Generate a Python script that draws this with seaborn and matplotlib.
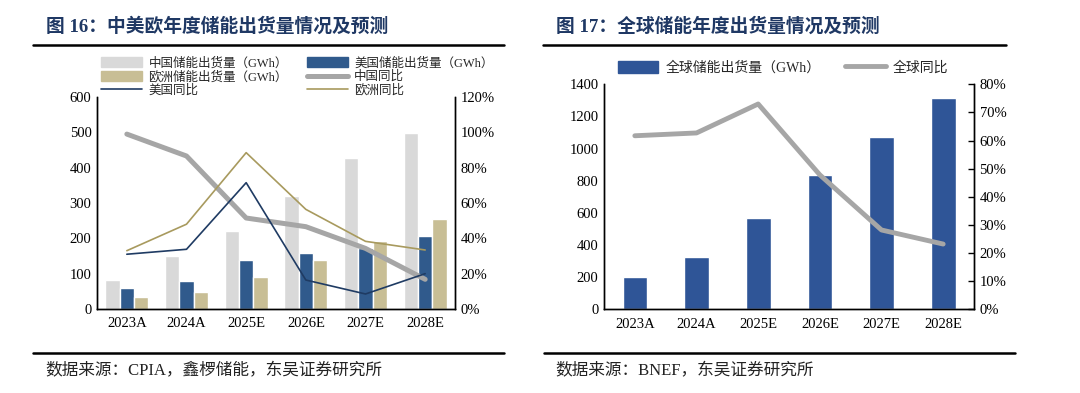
import numpy as np
import pandas as pd
import seaborn as sns
import matplotlib.pyplot as plt
from matplotlib.patches import Patch
from matplotlib.lines import Line2D

# ---- data ----
years = ["2023A", "2024A", "2025E", "2026E", "2027E", "2028E"]

cn_ship = [82, 150, 221, 320, 428, 499]
us_ship = [60, 80, 138, 159, 172, 206]
eu_ship = [33, 48, 90, 139, 192, 254]
cn_yoy = [0.99, 0.866, 0.515, 0.466, 0.343, 0.168]
us_yoy = [0.31, 0.338, 0.715, 0.164, 0.085, 0.20]
eu_yoy = [0.33, 0.48, 0.885, 0.564, 0.383, 0.334]

gl_ship = [201, 328, 570, 834, 1072, 1312]
gl_yoy = [0.617, 0.627, 0.73, 0.478, 0.282, 0.232]

names_ship = ["中国储能出货量（GWh）", "美国储能出货量（GWh）", "欧洲储能出货量（GWh）"]
names_yoy = ["中国同比", "美国同比", "欧洲同比"]

c_cn, c_us, c_eu = "#D9D9D9", "#305A8C", "#C8BE95"
c_cnl, c_usl, c_eul = "#A6A6A6", "#1F3B63", "#A89A5E"
c_gl = "#2F5597"
title_c = "#1F3864"

sns.set_style("white")
plt.rcParams['font.family'] = ['Liberation Serif', 'Noto Sans CJK SC', 'DejaVu Sans']
plt.rcParams['axes.linewidth'] = 1.0

fig = plt.figure(figsize=(10.8, 3.93), dpi=100)

# ---------------- left chart ----------------
ax1 = fig.add_axes([97/1080, 1-309/393, 358/1080, 212/393])
df = pd.DataFrame({
    "year": years * 3,
    "val": cn_ship + us_ship + eu_ship,
    "kind": [names_ship[0]]*6 + [names_ship[1]]*6 + [names_ship[2]]*6,
})
sns.barplot(data=df, x="year", y="val", hue="kind", ax=ax1, width=0.72,
            palette=[c_cn, c_us, c_eu], saturation=1, legend=False)
ax1.set_ylim(0, 600)
ax1.set_yticks(range(0, 601, 100))
ax1.set_xlim(-0.5, 5.5)
ax1.set_xlabel("")
ax1.set_ylabel("")

ax1b = ax1.twinx()
xs = np.arange(len(years))
sns.lineplot(x=xs, y=cn_yoy, ax=ax1b, color=c_cnl, lw=3.6)
sns.lineplot(x=xs, y=us_yoy, ax=ax1b, color=c_usl, lw=1.2)
sns.lineplot(x=xs, y=eu_yoy, ax=ax1b, color=c_eul, lw=1.2)
ax1b.set_ylim(0, 1.2)
ax1b.set_yticks(np.arange(0, 1.21, 0.2))
ax1b.set_yticklabels([f"{int(round(v*100))}%" for v in np.arange(0, 1.21, 0.2)])

# ---------------- right chart ----------------
ax2 = fig.add_axes([604/1080, 1-309.3/393, 370/1080, 225/393])
sns.barplot(x=years, y=gl_ship, ax=ax2, color=c_gl, saturation=1, width=0.4)
ax2.set_ylim(0, 1400)
ax2.set_yticks(range(0, 1401, 200))
ax2.set_xlim(-0.5, 5.5)

ax2b = ax2.twinx()
sns.lineplot(x=xs, y=gl_yoy, ax=ax2b, color=c_cnl, lw=3.5)
ax2b.set_ylim(0, 0.8)
ax2b.set_yticks(np.arange(0, 0.81, 0.1))
ax2b.set_yticklabels([f"{int(round(v*100))}%" for v in np.arange(0, 0.81, 0.1)])

for a in (ax1, ax1b, ax2, ax2b):
    for s in ("left", "right", "bottom"):
        a.spines[s].set_visible(True)
        a.spines[s].set_color("black")
    a.spines["top"].set_visible(False)
    a.tick_params(axis="both", labelsize=10.5, colors="black", length=0, pad=4)
    a.grid(False)

for a in (ax1, ax2):
    a.set_xticks(np.arange(-0.5, 6.0, 1.0), minor=True)
    a.tick_params(axis="x", which="minor", direction="in", length=4, width=1)
    a.tick_params(axis="x", which="major", pad=6)
ax2b.tick_params(axis="y", direction="in", length=4, width=1)
ax1.set_yticks([600], minor=True)
ax1.tick_params(axis="y", which="minor", direction="in", length=4, width=1)
ax1b.set_yticks([1.2], minor=True)
ax1b.tick_params(axis="y", which="minor", direction="in", length=4, width=1)
ax2.set_yticks([1400], minor=True)
ax2.tick_params(axis="y", which="minor", direction="in", length=4, width=1)

# ---------------- legends ----------------
h_cn = Patch(color=c_cn)
h_us = Patch(color=c_us)
h_eu = Patch(color=c_eu)
l_cn = Line2D([], [], color=c_cnl, lw=3.6)
l_us = Line2D([], [], color=c_usl, lw=1.2)
l_eu = Line2D([], [], color=c_eul, lw=1.2)
leg1 = fig.legend([h_cn, h_eu, l_us, h_us, l_cn, l_eu],
                  [names_ship[0], names_ship[2], names_yoy[1],
                   names_ship[1], names_yoy[0], names_yoy[2]],
                  ncol=2, loc="upper left", bbox_to_anchor=(101/1080, 1-57/393),
                  frameon=False, fontsize=9, handlelength=3.3, handleheight=0.9,
                  labelspacing=0.1, columnspacing=1.5, handletextpad=0.5,
                  borderpad=0, borderaxespad=0)

leg2 = fig.legend([Patch(color=c_gl), Line2D([], [], color=c_cnl, lw=3.5)],
                  ["全球储能出货量（GWh）", "全球同比"],
                  ncol=2, loc="upper left", bbox_to_anchor=(618/1080, 1-61/393),
                  frameon=False, fontsize=10, handlelength=2.9, handleheight=0.9,
                  columnspacing=1.8, handletextpad=0.5, borderpad=0, borderaxespad=0)

# ---------------- titles, rules, sources ----------------
fig.text(46/1080, 1-26.5/393, "图 16：中美欧年度储能出货量情况及预测", fontsize=13.5,
         fontweight="bold", color=title_c, va="center", ha="left")
fig.text(556/1080, 1-26.5/393, "图 17：全球储能年度出货量情况及预测", fontsize=13.5,
         fontweight="bold", color=title_c, va="center", ha="left")

for x0, x1 in ((33, 504), (543, 1006)):
    fig.add_artist(Line2D([x0/1080, x1/1080], [1-45/393, 1-45/393], color="black", lw=1.8))
for x0, x1 in ((33, 504), (544, 1015)):
    fig.add_artist(Line2D([x0/1080, x1/1080], [1-352.5/393, 1-352.5/393], color="black", lw=1.8))

fig.text(45/1080, 1-371.5/393, "数据来源：CPIA，鑫椤储能，东吴证券研究所", fontsize=12,
         color="#222222", va="center", ha="left")
fig.text(555/1080, 1-371.5/393, "数据来源：BNEF，东吴证券研究所", fontsize=12,
         color="#222222", va="center", ha="left")

fig.savefig("out.png", dpi=100)
